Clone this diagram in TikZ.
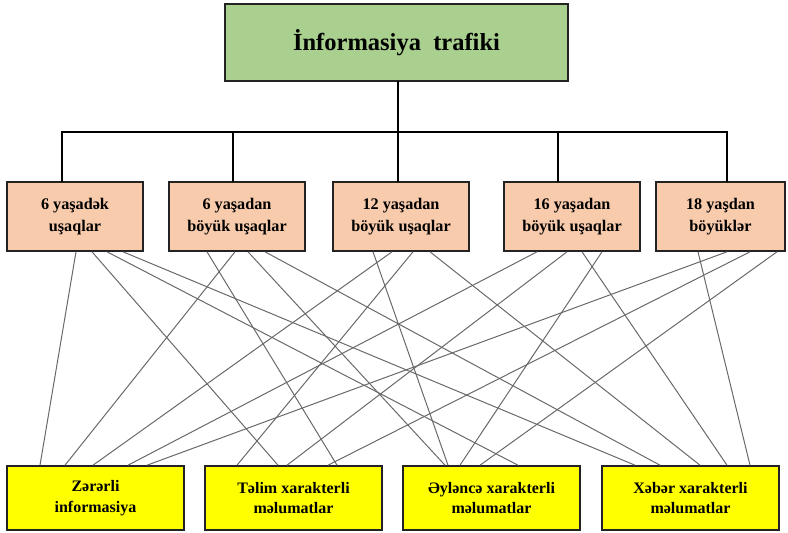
\documentclass[tikz,border=0pt]{standalone}
\usepackage{fontspec}
\setmainfont{Liberation Serif}
\definecolor{topgreen}{RGB}{169,208,142}
\definecolor{peach}{RGB}{248,203,173}
\definecolor{yel}{RGB}{255,255,0}
\definecolor{edge}{RGB}{35,35,35}
\definecolor{fan}{RGB}{105,105,105}
\tikzset{
  box/.style={draw=edge, line width=1.6pt, anchor=north west, inner sep=2pt, outer sep=0pt, align=center},
  topbox/.style={box, fill=topgreen, minimum width=343pt, minimum height=77pt, font=\bfseries\fontsize{24.5}{28}\selectfont},
  agebox/.style={box, fill=peach, minimum width=136pt, minimum height=69pt, font=\bfseries\fontsize{16.2}{21.5}\selectfont},
  typebox/.style={box, fill=yel, minimum width=177pt, minimum height=64pt, font=\bfseries\fontsize{16}{20.5}\selectfont},
  bus/.style={line width=1.6pt, draw=black},
  fanline/.style={line width=1pt, draw=fan}
}
\begin{document}
\begin{tikzpicture}[x=1pt,y=-1pt]
\useasboundingbox (0,0) rectangle (788,533);
% top
\node[topbox] (top) at (225,4) {İnformasiya\ \ trafiki};
% middle
\node[agebox] (m1) at (7,182) {6 yaşadək\\uşaqlar};
\node[agebox] (m2) at (169,182) {6 yaşadan\\böyük uşaqlar};
\node[agebox] (m3) at (333,182) {12 yaşadan\\böyük uşaqlar};
\node[agebox] (m4) at (504,182) {16 yaşadan\\böyük uşaqlar};
\node[agebox, minimum width=129pt] (m5) at (656,182) {18 yaşdan\\böyüklər};
% bottom
\node[typebox] (z) at (7,466) {Zərərli\\informasiya};
\node[typebox] (t) at (205,466) {Təlim xarakterli\\məlumatlar};
\node[typebox] (e) at (403,466) {Əyləncə xarakterli\\məlumatlar};
\node[typebox] (x) at (602,466) {Xəbər xarakterli\\məlumatlar};
% bus
\coordinate (busmid) at (398,132);
\coordinate (busl) at (62,132);
\coordinate (busr) at (727,132);
\draw[bus] (top.south -| busmid) -- (busmid);
\draw[bus] ([xshift=-0.8pt]busl) -- ([xshift=0.8pt]busr);
\draw[bus] (busl) -- (busl |- m1.north);
\draw[bus] (233,132) -- (233,182);
\draw[bus] (busmid) -- (busmid |- m3.north);
\draw[bus] (558,132) -- (558,182);
\draw[bus] (busr) -- (busr |- m5.north);
% fan lines
\foreach \m/\a/\b/\o in {
  m1/69/z/33, m1/85/t/73, m1/100/e/115, m1/116/x/33,
  m2/38/t/132, m2/66/z/58, m2/79/e/42, m2/96/x/58,
  m3/40/e/45, m3/59/z/86, m3/80/t/32, m3/97/x/98,
  m4/33/z/121, m4/63/t/82, m4/78/x/125, m4/98/e/57,
  m5/42/x/148, m5/71/z/140, m5/94/t/123, m5/121/e/77}
  \draw[fanline] ([xshift=\a pt, yshift=-0.8pt]\m.south west) -- ([xshift=\o pt, yshift=0.8pt]\b.north west);
\end{tikzpicture}
\end{document}
